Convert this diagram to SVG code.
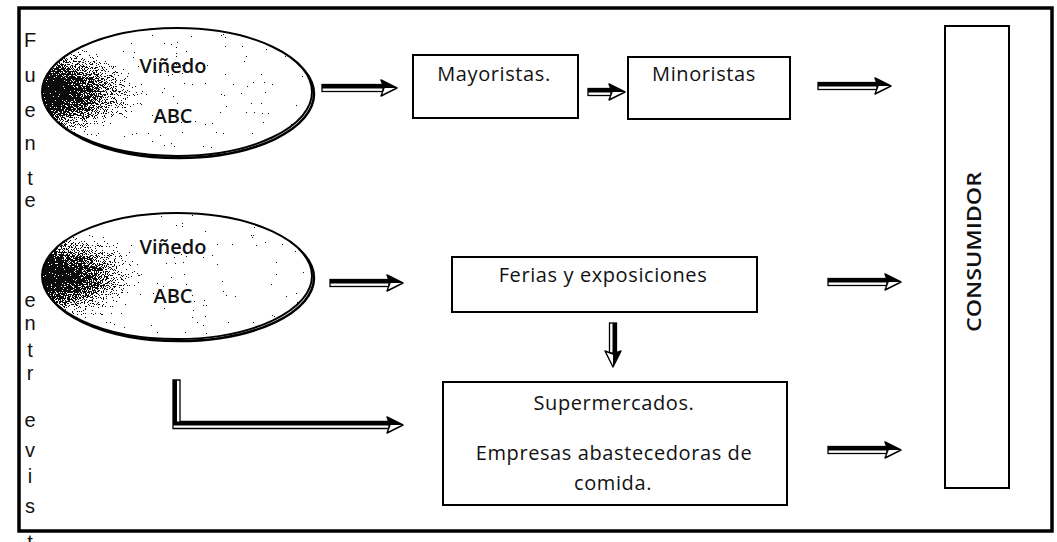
<svg xmlns="http://www.w3.org/2000/svg" xmlns:xlink="http://www.w3.org/1999/xlink" width="1057" height="542" viewBox="0 0 1057 542">
<style>
.box{fill:#fff;stroke:#000;stroke-width:2}
.frame{fill:none;stroke:#000;stroke-width:3.5}
.t{font-family:"Open Sans","Noto Sans",sans-serif;font-size:20px;letter-spacing:0.6px;fill:#111;text-anchor:middle}
.te{font-family:"Open Sans","Noto Sans",sans-serif;font-size:20px;font-weight:600;fill:#111;text-anchor:middle}
.side{font-family:"Liberation Sans",Arial,sans-serif;font-size:20px;fill:#111;text-anchor:middle}
.shaft{fill:#fff;stroke:#000;stroke-width:1.3}
.shafttop{fill:#000}
</style>
<defs>
<radialGradient id="ellg" cx="0.0" cy="0.5" r="0.45" fx="0.0" fy="0.5">
<stop offset="0" stop-color="#000"/>
<stop offset="0.2" stop-color="#0a0a0a"/>
<stop offset="0.45" stop-color="#555"/>
<stop offset="0.7" stop-color="#b8b8b8"/>
<stop offset="0.88" stop-color="#fff"/>
<stop offset="1" stop-color="#fff"/>
</radialGradient>
<filter id="stip" x="0" y="0" width="1" height="1" color-interpolation-filters="sRGB">
<feTurbulence type="fractalNoise" baseFrequency="1.1" numOctaves="2" seed="7" result="n"/>
<feColorMatrix in="n" type="matrix" values="1 0 0 0 0  1 0 0 0 0  1 0 0 0 0  0 0 0 0 1" result="g"/>
<feComposite in="SourceGraphic" in2="g" operator="arithmetic" k1="0" k2="1" k3="2" k4="-0.92" result="s"/>
<feComponentTransfer in="s" result="d">
<feFuncR type="discrete" tableValues="0.05 1"/>
<feFuncG type="discrete" tableValues="0.05 1"/>
<feFuncB type="discrete" tableValues="0.05 1"/>
</feComponentTransfer>
<feComposite in="d" in2="SourceGraphic" operator="in"/>
</filter>
<g id="head">
<polygon points="0,-8 16,0 0,8 3,0" fill="#fff" stroke="#000" stroke-width="1.4" stroke-linejoin="round"/>
<polygon points="0,-8 16,0 3,0" fill="#000"/>
</g>
</defs>

<rect class="frame" x="19" y="8" width="1033" height="523"/>

<g id="side-text">
<text class="side" x="30" y="47">F</text>
<text class="side" x="30" y="82">u</text>
<text class="side" x="30" y="117">e</text>
<text class="side" x="30" y="150">n</text>
<text class="side" x="30" y="185">t</text>
<text class="side" x="30" y="207">e</text>
<text class="side" x="30" y="307">e</text>
<text class="side" x="30" y="330">n</text>
<text class="side" x="30" y="357">t</text>
<text class="side" x="30" y="380">r</text>
<text class="side" x="30" y="427">e</text>
<text class="side" x="30" y="457">v</text>
<text class="side" x="30" y="483">i</text>
<text class="side" x="30" y="513">s</text>
<text class="side" x="30" y="549">t</text>
</g>

<g id="vinedo1">
<ellipse cx="179" cy="94" rx="135" ry="64" fill="none" stroke="#000" stroke-width="2.5"/>
<ellipse cx="177" cy="92" rx="135" ry="64" fill="url(#ellg)" filter="url(#stip)"/>
<ellipse cx="177" cy="92" rx="135" ry="64" fill="none" stroke="#000" stroke-width="2"/>
<text class="te" x="173" y="73">Viñedo</text>
<text class="te" x="173" y="123">ABC</text>
</g>

<g id="vinedo2">
<ellipse cx="179" cy="278" rx="135" ry="63" fill="none" stroke="#000" stroke-width="2.5"/>
<ellipse cx="177" cy="276" rx="135" ry="63" fill="url(#ellg)" filter="url(#stip)"/>
<ellipse cx="177" cy="276" rx="135" ry="63" fill="none" stroke="#000" stroke-width="2"/>
<text class="te" x="173" y="254">Viñedo</text>
<text class="te" x="173" y="303">ABC</text>
</g>

<g id="mayoristas">
<rect class="box" x="413" y="55" width="165" height="63"/>
<text class="t" x="494" y="81">Mayoristas.</text>
</g>

<g id="minoristas">
<rect class="box" x="628" y="57" width="162" height="62"/>
<text class="t" x="704" y="81">Minoristas</text>
</g>

<g id="ferias">
<rect class="box" x="452" y="257" width="305" height="55"/>
<text class="t" x="603" y="282">Ferias y exposiciones</text>
</g>

<g id="supermercados">
<rect class="box" x="443" y="382" width="344" height="123"/>
<text class="t" x="614" y="410">Supermercados.</text>
<text class="t" x="614" y="460">Empresas abastecedoras de</text>
<text class="t" x="613" y="490">comida.</text>
</g>

<g id="consumidor">
<rect class="box" x="945" y="26" width="64" height="462"/>
<text class="te" x="0" y="0" font-size="22" font-weight="500" textLength="160" lengthAdjust="spacingAndGlyphs" transform="translate(981,252) rotate(-90)">CONSUMIDOR</text>
</g>

<g id="connectors">
<g transform="translate(322,88)"><rect class="shaft" x="0" y="-3.5" width="61" height="7"/><rect class="shafttop" x="0" y="-3.5" width="61" height="4"/><use xlink:href="#head" x="59"/></g>
<g transform="translate(588,92)"><rect class="shaft" x="0" y="-3.5" width="23" height="7"/><rect class="shafttop" x="0" y="-3.5" width="23" height="4"/><use xlink:href="#head" x="21"/></g>
<g transform="translate(818,86)"><rect class="shaft" x="0" y="-3.5" width="59" height="7"/><rect class="shafttop" x="0" y="-3.5" width="59" height="4"/><use xlink:href="#head" x="57"/></g>
<g transform="translate(330,283)"><rect class="shaft" x="0" y="-3.5" width="59" height="7"/><rect class="shafttop" x="0" y="-3.5" width="59" height="4"/><use xlink:href="#head" x="57"/></g>
<g transform="translate(828,282)"><rect class="shaft" x="0" y="-3.5" width="59" height="7"/><rect class="shafttop" x="0" y="-3.5" width="59" height="4"/><use xlink:href="#head" x="57"/></g>
<g transform="translate(828,450)"><rect class="shaft" x="0" y="-3.5" width="59" height="7"/><rect class="shafttop" x="0" y="-3.5" width="59" height="4"/><use xlink:href="#head" x="57"/></g>
<g transform="translate(613,323) rotate(90)"><rect class="shaft" x="0" y="-3.5" width="30" height="7"/><rect class="shafttop" x="0" y="-3.5" width="30" height="4"/><use xlink:href="#head" x="28"/></g>
<g>
<path d="M173,380 V428.5 H389 V421.5 H180 V380 Z" fill="#fff" stroke="#000" stroke-width="1.3"/>
<path d="M173,380 V425.5 H389 V421.5 H177 V380 Z" fill="#000"/>
<use xlink:href="#head" x="387" y="425"/>
</g>
</g>
</svg>
